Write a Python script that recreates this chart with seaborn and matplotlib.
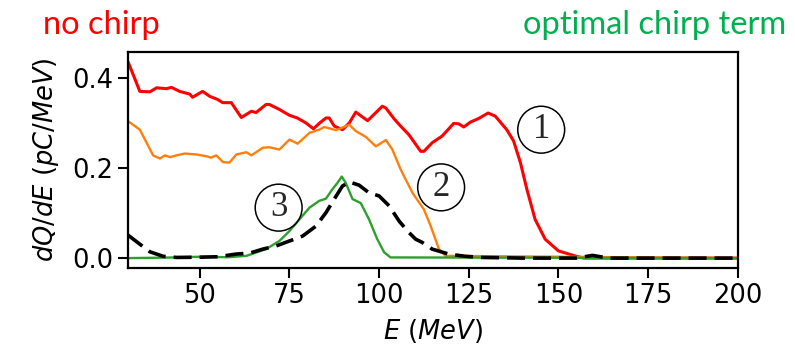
import numpy as np
import pandas as pd
import matplotlib
matplotlib.use("Agg")
import matplotlib.pyplot as plt
import seaborn as sns

# -----------------------------------------------------
# DATA
# -----------------------------------------------------

# 1: no chirp
red_e = [30.0, 33.3, 36.1, 38, 40.7, 42.1, 44.4, 47.2, 48, 50.8, 52.8, 55, 56.4, 58.8,
         61.6, 64.4, 65.7, 68.5, 69.4, 72.2, 75, 77.2, 79.6, 81.7, 83.3, 85.2, 86.1,
         87.5, 89.8, 91.7, 93.5, 96.8, 100.9, 101.9, 104.2, 106, 108.3, 111.6, 112.5,
         114.8, 117.6, 120.8, 122.2, 123.6, 125.5, 127.8, 130.4, 132.4, 135.6, 137.5,
         139.4, 141.2, 143.5, 146.3, 150, 154.6, 157, 200]
red_q = [0.436, 0.370, 0.369, 0.378, 0.376, 0.379, 0.370, 0.364, 0.357, 0.370, 0.359,
         0.352, 0.345, 0.345, 0.312, 0.326, 0.323, 0.341, 0.341, 0.330, 0.317, 0.311,
         0.300, 0.287, 0.299, 0.311, 0.311, 0.293, 0.285, 0.300, 0.324, 0.305, 0.337,
         0.333, 0.309, 0.293, 0.274, 0.237, 0.237, 0.256, 0.271, 0.299, 0.298, 0.291,
         0.302, 0.310, 0.322, 0.315, 0.285, 0.260, 0.212, 0.153, 0.086, 0.042, 0.016,
         0.005, 0.0, 0.0]

# 2
orange_e = [30.0, 33.3, 35.2, 37, 38.9, 40.3, 41.7, 43.5, 45.8, 49.1, 51.9, 53.2, 54.6,
            56.5, 58.3, 60.2, 63, 64.4, 67.6, 69.4, 72.2, 75, 77.3, 80.6, 83.3, 84.7,
            88, 91.7, 93.5, 96.3, 99.1, 101.9, 103.7, 106, 109.3, 112.5, 114.4, 116.7,
            118.5, 200]
orange_q = [0.304, 0.285, 0.256, 0.228, 0.221, 0.228, 0.224, 0.228, 0.232, 0.230, 0.226,
            0.223, 0.228, 0.213, 0.212, 0.230, 0.235, 0.228, 0.245, 0.246, 0.241, 0.263,
            0.254, 0.278, 0.285, 0.291, 0.284, 0.296, 0.282, 0.269, 0.248, 0.262, 0.241,
            0.197, 0.145, 0.108, 0.071, 0.020, 0.005, 0.0]

# 3
green_e = [30, 40, 50, 58, 63, 68.5, 72.2, 75, 77.8, 80.6, 83.3, 85.2, 87, 88.4, 89.6,
           90.7, 92.6, 94.9, 97.2, 99.5, 101.4, 103.2, 200]
green_q = [0.0, 0.001, 0.003, 0.002, 0.005, 0.02, 0.038, 0.060, 0.086, 0.112, 0.127,
           0.132, 0.153, 0.167, 0.181, 0.167, 0.131, 0.122, 0.086, 0.042, 0.013, 0.0015, 0.0]

# optimal chirp term (dashed)
opt_e = [30.0, 33.3, 36.1, 39.8, 43.5, 50, 55, 60.2, 63.9, 67.6, 71.3, 75, 78.7, 82.4,
         85.2, 87.5, 89.8, 91.7, 94.4, 97.2, 100, 102.8, 105.6, 108.3, 110.2, 112, 114.8,
         119.4, 124, 128.7, 140, 155, 159.5, 164, 200]
opt_q = [0.051, 0.031, 0.014, 0.004, 0.0015, 0.002, 0.003, 0.009, 0.011, 0.020, 0.027,
         0.038, 0.049, 0.071, 0.101, 0.131, 0.160, 0.169, 0.162, 0.145, 0.138, 0.116,
         0.082, 0.057, 0.042, 0.035, 0.020, 0.009, 0.004, 0.0015, 0.0, 0.0, 0.006, 0.0, 0.0]

x_ticks = [50, 75, 100, 125, 150, 175, 200]
y_ticks = [0.0, 0.2, 0.4]

labels = ["1", "2", "3"]
label_pos = [(145.2, 0.281), (117.3, 0.153), (72.0, 0.108)]

# -----------------------------------------------------
# PLOT
# -----------------------------------------------------

sns.set_style("ticks")
plt.rcParams["font.family"] = ["DejaVu Sans"]

fig = plt.figure(figsize=(7.95, 3.55), dpi=100)
ax = fig.add_axes([0.161, 0.245, 0.767, 0.608])

sns.lineplot(x=red_e, y=red_q, ax=ax, color="#ff0000", lw=2.2, sort=False, estimator=None)
sns.lineplot(x=orange_e, y=orange_q, ax=ax, color="#ff7f0e", lw=1.7, sort=False, estimator=None)
sns.lineplot(x=green_e, y=green_q, ax=ax, color="#2ca02c", lw=1.7, sort=False, estimator=None)
sns.lineplot(x=opt_e, y=opt_q, ax=ax, color="black", lw=2.6, sort=False, estimator=None,
             dashes=False)
ax.lines[-1].set_dashes((5, 2.2))

ax.set_xlim(30, 200)
ax.set_ylim(-0.022, 0.457)
ax.set_xticks(x_ticks)
ax.set_yticks(y_ticks)
ax.set_xticklabels([str(t) for t in x_ticks])
ax.set_yticklabels([f"{t:.1f}" for t in y_ticks])
ax.tick_params(axis="both", labelsize=18.5, length=7, width=1.5, direction="out",
               color="black", labelcolor="black")
for s in ax.spines.values():
    s.set_linewidth(1.6)
    s.set_color("black")

ax.set_xlabel("$E$ $(MeV)$", fontsize=18.5, labelpad=6, color="black")
ax.set_ylabel("$dQ/dE$ $(pC/MeV)$", fontsize=18.5, labelpad=8, color="black")

for lab, (ex, qy) in zip(labels, label_pos):
    ax.text(ex, qy + 0.004, lab, fontsize=25, family="Liberation Serif", ha="center",
            va="center",
            bbox=dict(boxstyle="circle,pad=0.2", fc="none", ec="black", lw=1.1))

fig.text(0.054, 0.905, "no chirp", color="#ff0000", fontsize=23.5, family="Lato",
         ha="left", va="baseline")
fig.text(0.989, 0.905, "optimal chirp term", color="#00b050", fontsize=23.5, family="Lato",
         ha="right", va="baseline")

fig.savefig("out.png", dpi=100)
